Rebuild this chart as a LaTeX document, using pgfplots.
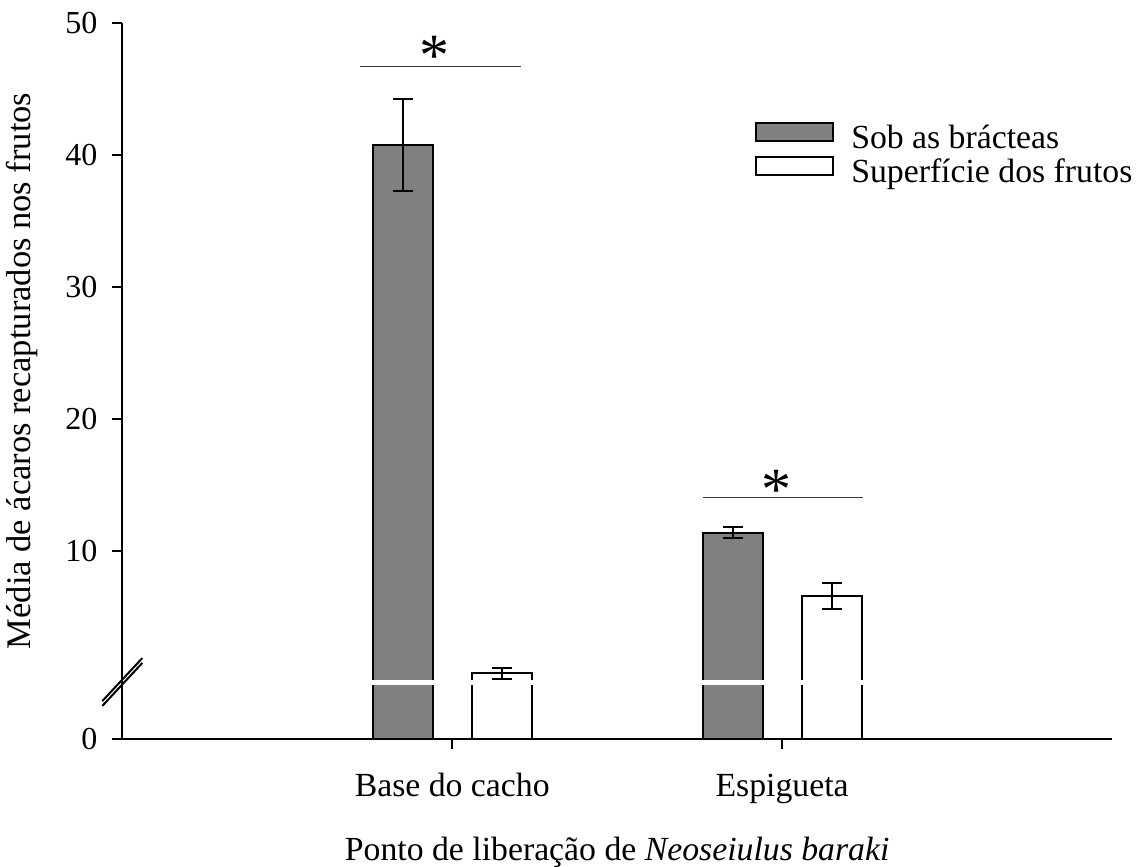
\documentclass[border=0pt]{standalone}
\usepackage{pgfplots}
\pgfplotsset{compat=1.18}
\usepackage{pgfplotstable}
\usepackage{fontspec}
\setmainfont{Liberation Serif}
\definecolor{barg}{RGB}{128,128,128}
\definecolor{sigline}{RGB}{60,60,60}

% values (mean, error plus, error minus)
\pgfplotstableread{
x v ep em
1 40.78 3.49 3.49
2 11.39 0.41 0.40
}\bracteas
\pgfplotstableread{
x v ep em
1 0.73 0.40 0.43
2 6.57 0.98 0.97
}\superficie
% offset of the broken axis: the lower segment (0) sits 4.23 units below the upper scale's zero
\def\off{4.23}

\begin{document}
\begin{tikzpicture}
\begin{axis}[
  name=ax,
  scale only axis,
  width=395.9pt, height=286.2pt,
  xmin=0, xmax=3, ymin=0, ymax=54.23,
  clip=false,
  axis x line*=bottom, axis y line*=left,
  axis line style={-, line width=0.8pt},
  xtick={1,2}, xticklabels={Base do cacho, Espigueta},
  ytick={0,14.23,24.23,34.23,44.23,54.23},
  yticklabels={0,10,20,30,40,50},
  tick align=outside, major tick length=4.1pt,
  tick style={black, line width=0.8pt},
  yticklabel style={font=\fontsize{12.8}{14}\selectfont, xshift=-2.3pt},
  xticklabel style={font=\fontsize{13.5}{15}\selectfont, anchor=base, yshift=-19pt},
  every axis y label/.style={at={(axis description cs:-0.1013,0.514)}, rotate=90, anchor=center, font=\fontsize{13.8}{15}\selectfont},
  every axis x label/.style={at={(axis description cs:0.5,-0.1696)}, anchor=base, font=\fontsize{13.5}{15}\selectfont},
  ylabel={Média de ácaros recapturados nos frutos},
  xlabel={Ponto de liberação de \textit{Neoseiulus baraki}},
  legend style={draw=none, fill=none, at={(axis description cs:0.639,0.8616)}, anchor=north west,
    inner sep=0pt, outer sep=0pt, row sep=-0.8pt, column sep=0pt,
    font=\fontsize{13.5}{15}\selectfont,
    nodes={inner sep=0pt, text height=9.2pt, text depth=3.8pt}},
  legend cell align=left,
  legend image code/.code={\draw[#1, line width=0.8pt] (0pt,0.2pt) rectangle (30.8pt,7.4pt); \path (37.8pt,0pt);},
]
\addplot[ybar, bar width=0.182, bar shift=0, fill=barg, draw=black, line width=0.8pt,
  error bars/.cd, y dir=both, y explicit,
  error bar style={line width=0.8pt, black},
  error mark options={rotate=90, mark size=4pt, line width=0.8pt, black}]
  table[x expr=\thisrow{x}-0.15, y expr=\thisrow{v}+\off, y error plus=ep, y error minus=em] {\bracteas};
\addlegendentry{Sob as brácteas}
\addplot[ybar, bar width=0.182, bar shift=0, fill=white, draw=black, line width=0.8pt,
  error bars/.cd, y dir=both, y explicit,
  error bar style={line width=0.8pt, black},
  error mark options={rotate=90, mark size=4pt, line width=0.8pt, black}]
  table[x expr=\thisrow{x}+0.15, y expr=\thisrow{v}+\off, y error plus=ep, y error minus=em] {\superficie};
\addlegendentry{Superfície dos frutos}

% break gap through the bars
\fill[white] (axis cs:0.7,4.47) rectangle (axis cs:2.3,4.07);
% break marks on the y axis
\draw[line width=0.8pt] ([xshift=-8pt,yshift=-8.6pt]axis cs:0,4.48) -- ([xshift=8pt,yshift=8.6pt]axis cs:0,4.48);
\draw[line width=0.8pt] ([xshift=-8pt,yshift=-8.6pt]axis cs:0,4.11) -- ([xshift=8pt,yshift=8.6pt]axis cs:0,4.11);
% significance lines and asterisks
\draw[sigline, line width=0.6pt] (axis cs:0.722,50.95) -- (axis cs:1.207,50.95);
\draw[sigline, line width=0.6pt] (axis cs:1.760,18.27) -- (axis cs:2.245,18.27);
\node[anchor=center, font=\fontsize{24}{24}\selectfont, inner sep=0pt, yshift=-3pt] at (axis cs:0.945,52.29) {*};
\node[anchor=center, font=\fontsize{24}{24}\selectfont, inner sep=0pt, yshift=-3pt] at (axis cs:1.982,19.46) {*};
\end{axis}
\pgfresetboundingbox
\path[use as bounding box] ([xshift=-48.92pt,yshift=-51.32pt]ax.south west) rectangle ++(454.4pt,346.8pt);
\end{tikzpicture}
\end{document}
